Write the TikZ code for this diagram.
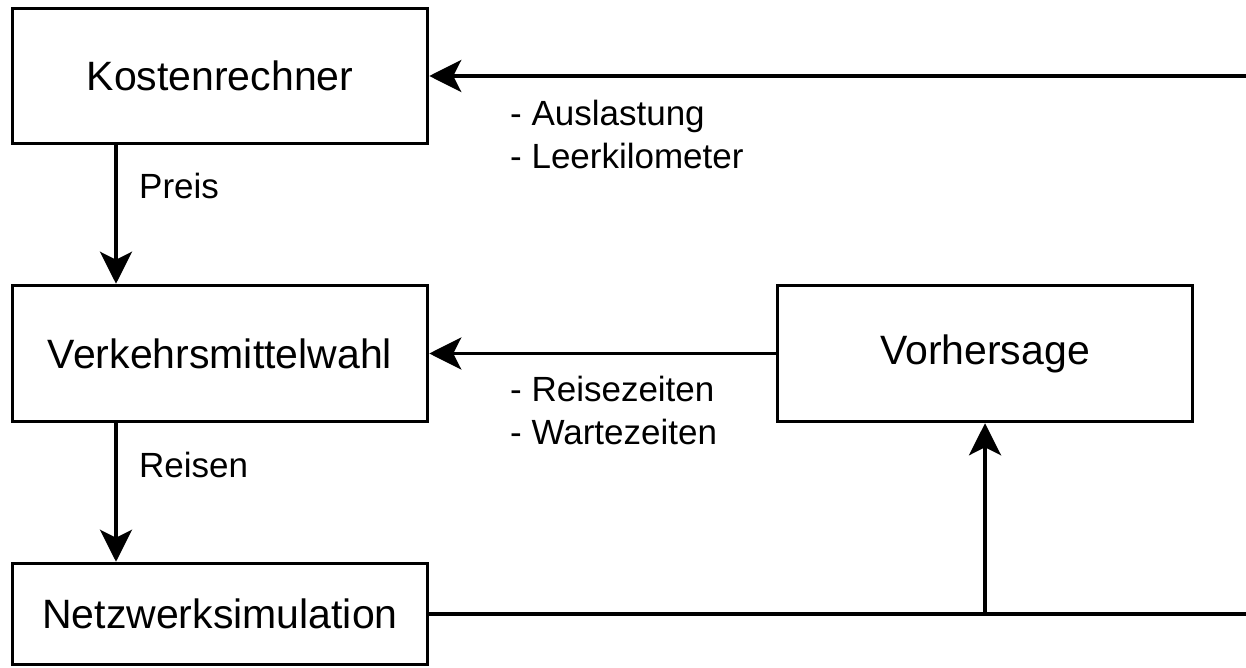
\documentclass[tikz,border=0pt]{standalone}
\usepackage{fontspec}
\setmainfont{Liberation Sans}
\usetikzlibrary{arrows.meta}
\begin{document}
\begin{tikzpicture}[x=1pt,y=-1pt,
  box/.style={draw=black, line width=3.5pt, fill=white, rectangle, minimum width=415pt, inner sep=0pt,
    font=\fontsize{41}{49}\selectfont},
  lbl/.style={anchor=west, align=left, inner sep=0pt, font=\fontsize{35}{43}\selectfont},
  conn/.style={line width=3.5pt, -{Stealth[length=32pt, width=32pt, inset=8pt]}},
  plain/.style={line width=3.5pt}]
\useasboundingbox (0,0) rectangle (1246,668);
\node[box, minimum height=135pt] (kosten) at (220,76) {Kostenrechner};
\node[box, minimum height=136pt] (verkehr) at (220,353.5) {Verkehrsmittelwahl};
\node[box, minimum height=101pt] (netz) at (220,614) {Netzwerksimulation};
\node[box, minimum height=136pt] (vorher) at (985,353.5) {Vorhersage};
\coordinate (topin) at (1246,76);
\coordinate (botout) at (1246,614);
\coordinate (branch) at (985,614);
\draw[conn] (topin) -- (kosten.east);
\draw[conn] (vorher.west) -- (verkehr.east);
\draw[conn] (kosten.south -| 116,0) -- (verkehr.north -| 116,0);
\draw[conn] (verkehr.south -| 116,0) -- (netz.north -| 116,0);
\draw[plain] (netz.east) -- (botout);
\draw[conn] (branch) -- (vorher.south);
\node[lbl] (l1) at (510,134) {- Auslastung\\- Leerkilometer};
\node[lbl] (l2) at (139,186) {Preis};
\node[lbl] (l3) at (510,410) {- Reisezeiten\\- Wartezeiten};
\node[lbl] (l4) at (139,465) {Reisen};
\end{tikzpicture}
\end{document}
